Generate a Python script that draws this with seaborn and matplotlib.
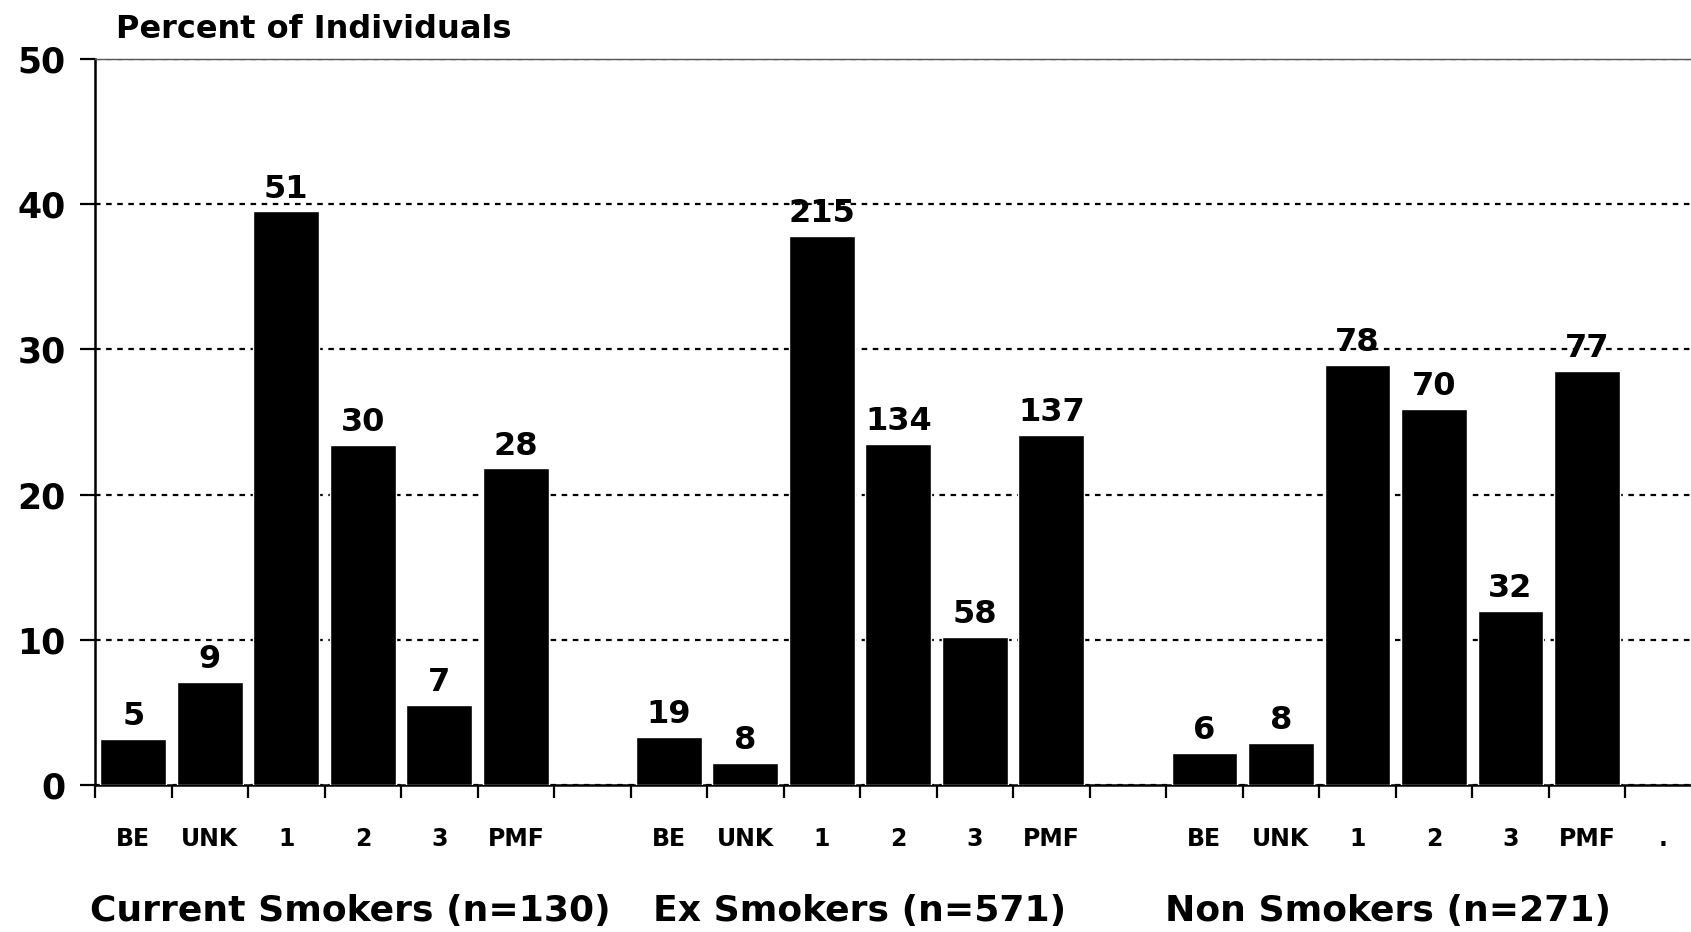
import numpy as np
import pandas as pd
import seaborn as sns
import matplotlib.pyplot as plt

# categories within each smoking group
categories = ['BE', 'UNK', '1', '2', '3', 'PMF']
groups = ['Current Smokers (n=130)', 'Ex Smokers (n=571)', 'Non Smokers (n=271)']

# percent of individuals
current_pct = [3.2, 7.1, 39.5, 23.4, 5.5, 21.8]
ex_pct = [3.3, 1.5, 37.8, 23.5, 10.2, 24.1]
non_pct = [2.2, 2.9, 28.9, 25.9, 12.0, 28.5]

# counts shown above the bars
current_n = [5, 9, 51, 30, 7, 28]
ex_n = [19, 8, 215, 134, 58, 137]
non_n = [6, 8, 78, 70, 32, 77]

pcts = [current_pct, ex_pct, non_pct]
counts = [current_n, ex_n, non_n]

# build long table, one row per bar
rows = []
for g, p, n in zip(groups, pcts, counts):
    for c, v, k in zip(categories, p, n):
        rows.append({'slot': f'{g}|{c}', 'pct': v, 'n': k})
df = pd.DataFrame(rows)

# slot order with an empty slot between groups and a trailing '.' slot
slot_order = []
tick_labels = []
for i, g in enumerate(groups):
    slot_order += [f'{g}|{c}' for c in categories]
    tick_labels += categories
    if i < len(groups) - 1:
        slot_order.append(f'gap{i}')
        tick_labels.append('')
slot_order.append('end')
tick_labels.append('.')

sns.set_style('white')
plt.rcParams['font.family'] = ['DejaVu Sans']
plt.rcParams['text.color'] = 'black'
plt.rcParams['xtick.color'] = 'black'
plt.rcParams['ytick.color'] = 'black'

fig = plt.figure(figsize=(16.91, 9.32), dpi=100)
ax = fig.add_axes([0.0562, 0.1577, 0.9438, 0.779])

sns.barplot(data=df, x='slot', y='pct', order=slot_order, color='black',
            width=0.86, saturation=1, ax=ax, zorder=3)

ax.bar_label(ax.containers[0], labels=df['n'].tolist(), padding=5,
             fontsize=23, fontweight='bold', color='black', zorder=4)

ax.set_ylim(0, 50)
ax.set_xlim(-0.5, 20.36)
ax.set_yticks([0, 10, 20, 30, 40, 50])
ax.yaxis.grid(True, color='black', linestyle=(0, (2.5, 2.5)), linewidth=1.6)
ax.xaxis.grid(False)
ax.set_axisbelow(True)

ax.set_xticks(range(len(slot_order)))
ax.set_xticklabels(tick_labels)
ax.set_xticks(np.arange(-0.5, 20, 1), minor=True)
ax.tick_params(axis='x', which='both', bottom=True)
ax.tick_params(axis='y', which='both', left=True)
ax.tick_params(axis='x', which='major', length=0, pad=30, labelsize=17)
ax.tick_params(axis='x', which='minor', length=9, width=1.6, direction='out', color='black')
ax.tick_params(axis='y', length=11, width=1.6, direction='out', color='black', pad=10, labelsize=25)
for lab in ax.get_xticklabels() + ax.get_yticklabels():
    lab.set_fontweight('bold')
    lab.set_color('black')

ax.set_xlabel('')
ax.set_ylabel('')

for side in ['left', 'bottom']:
    ax.spines[side].set_color('black')
    ax.spines[side].set_linewidth(1.8)
ax.spines['top'].set_color('#555555')
ax.spines['top'].set_linewidth(1.0)
ax.spines['right'].set_visible(False)

fig.text(0.0686, 0.968, 'Percent of Individuals', ha='left', va='center',
         fontsize=23, fontweight='bold', color='black')

title_x = [0.207, 0.5086, 0.8208]
for x, g in zip(title_x, groups):
    fig.text(x, 0.0225, g, ha='center', va='center', fontsize=26,
             fontweight='bold', color='black')

fig.savefig('out.png', dpi=100)
